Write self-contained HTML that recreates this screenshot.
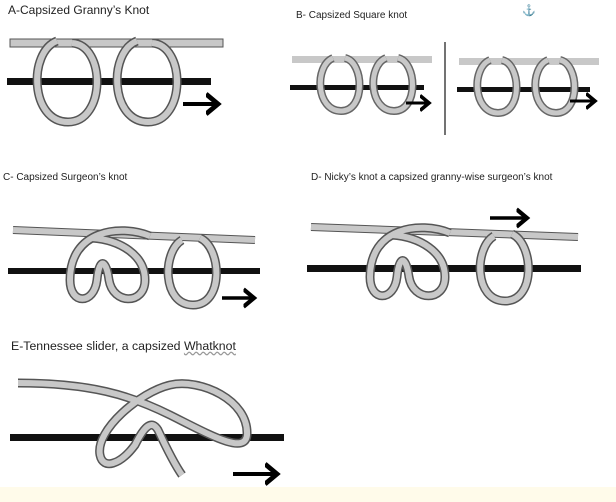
<!DOCTYPE html>
<html><head><style>
html,body{margin:0;padding:0;background:#fff;width:616px;height:502px;overflow:hidden}
.t{position:absolute;font-family:"Liberation Sans",sans-serif;color:#222;white-space:nowrap}
</style></head><body>
<div style="position:absolute;left:0;top:487px;width:616px;height:15px;background:#fffbea"></div>
<div class="t" style="left:8px;top:3px;font-size:12px">A-Capsized Granny’s Knot</div>
<div class="t" style="left:296px;top:10px;font-size:10px">B- Capsized Square knot</div>
<div class="t" style="left:522px;top:4px;font-size:11px;color:#777">⚓</div>
<div class="t" style="left:3px;top:172px;font-size:10px">C- Capsized Surgeon’s knot</div>
<div class="t" style="left:311px;top:172px;font-size:10px">D- Nicky’s knot a capsized granny-wise surgeon’s knot</div>
<div class="t" style="left:11px;top:339px;font-size:12.3px">E-Tennessee slider, a capsized <span style="text-decoration:underline wavy #999">Whatknot</span></div>
<svg width="616" height="502" style="position:absolute;left:0;top:0">
<defs>
<marker id="ah" markerWidth="6" markerHeight="6" refX="3" refY="3" orient="auto" markerUnits="strokeWidth"><path d="M0,0.5 L3,3 L0,5.5" fill="none" stroke="#000" stroke-width="1.2"/></marker>
</defs>
<g fill="none" stroke-linecap="butt">
<!-- A -->
<rect x="10" y="39" width="213" height="8" fill="#c8c8c8" stroke="#555" stroke-width="1"/>
<rect x="7" y="78" width="204" height="7" fill="#111"/>
<g id="la"><path d="M57,41 C28,52 30,122 68,122 C106,122 106,45 72,43" stroke="#555" stroke-width="9"/><path d="M57,41 C28,52 30,122 68,122 C106,122 106,45 72,43" stroke="#c8c8c8" stroke-width="6"/></g>
<use href="#la" x="80"/>
<path d="M183,104 L218,104" stroke="#000" stroke-width="4" marker-end="url(#ah)"/>
<!-- B -->
<rect x="292" y="56" width="140" height="7" fill="#c8c8c8"/>
<rect x="290" y="85" width="134" height="5" fill="#111"/>
<g id="lb"><path d="M333,58 C314,66 316,111 341,111 C366,111 364,62 345,58" stroke="#666" stroke-width="8"/><path d="M333,58 C314,66 316,111 341,111 C366,111 364,62 345,58" stroke="#c8c8c8" stroke-width="5"/></g>
<use href="#lb" x="53"/>
<path d="M406,103 L429,103" stroke="#000" stroke-width="3" marker-end="url(#ah)"/>
<line x1="445" y1="42" x2="445" y2="135" stroke="#444" stroke-width="1.5"/>
<rect x="459" y="58" width="140" height="7" fill="#c8c8c8"/>
<rect x="457" y="87" width="133" height="5" fill="#111"/>
<use href="#lb" x="157" y="2"/>
<use href="#lb" x="215" y="2"/>
<path d="M570,101 L595,101" stroke="#000" stroke-width="3" marker-end="url(#ah)"/>
<!-- C -->
<path d="M13,230 L255,240" stroke="#555" stroke-width="8"/><path d="M13,230 L255,240" stroke="#c8c8c8" stroke-width="6"/>
<rect x="8" y="268" width="252" height="6" fill="#111"/>
<g id="kd"><path d="M150,236 C120,224 70,230 70,280 C70,305 94,305 97,280 C99,258 106,258 109,280 C113,305 145,305 145,280 C145,255 120,240 92,238" stroke="#555" stroke-width="9"/><path d="M150,236 C120,224 70,230 70,280 C70,305 94,305 97,280 C99,258 106,258 109,280 C113,305 145,305 145,280 C145,255 120,240 92,238" stroke="#c8c8c8" stroke-width="6"/></g>
<g id="cl"><path d="M182,240 C162,252 162,305 193,305 C224,305 222,248 200,238" stroke="#555" stroke-width="9"/><path d="M182,240 C162,252 162,305 193,305 C224,305 222,248 200,238" stroke="#c8c8c8" stroke-width="6"/></g>
<path d="M222,298 L254,298" stroke="#000" stroke-width="3.5" marker-end="url(#ah)"/>
<!-- D -->
<path d="M311,227 L578,237" stroke="#555" stroke-width="8"/><path d="M311,227 L578,237" stroke="#c8c8c8" stroke-width="6"/>
<rect x="307" y="265" width="274" height="7" fill="#111"/>
<use href="#kd" x="300" y="-3"/>
<use href="#cl" x="312" y="-4"/>
<path d="M490,218 L527,218" stroke="#000" stroke-width="3.5" marker-end="url(#ah)"/>
<!-- E -->
<rect x="10" y="434" width="274" height="7" fill="#111"/>
<g id="ee"><path d="M18,383 C90,383 130,395 170,415 C210,435 245,455 247,435 C249,400 200,378 170,385 C140,392 95,430 100,455 C103,470 120,465 135,445 C145,425 152,420 158,430 C165,445 175,465 182,475" stroke="#555" stroke-width="9"/><path d="M18,383 C90,383 130,395 170,415 C210,435 245,455 247,435 C249,400 200,378 170,385 C140,392 95,430 100,455 C103,470 120,465 135,445 C145,425 152,420 158,430 C165,445 175,465 182,475" stroke="#c8c8c8" stroke-width="6"/></g>
<path d="M233,474 L277,474" stroke="#000" stroke-width="4" marker-end="url(#ah)"/>
</g>
</svg>
</body></html>
